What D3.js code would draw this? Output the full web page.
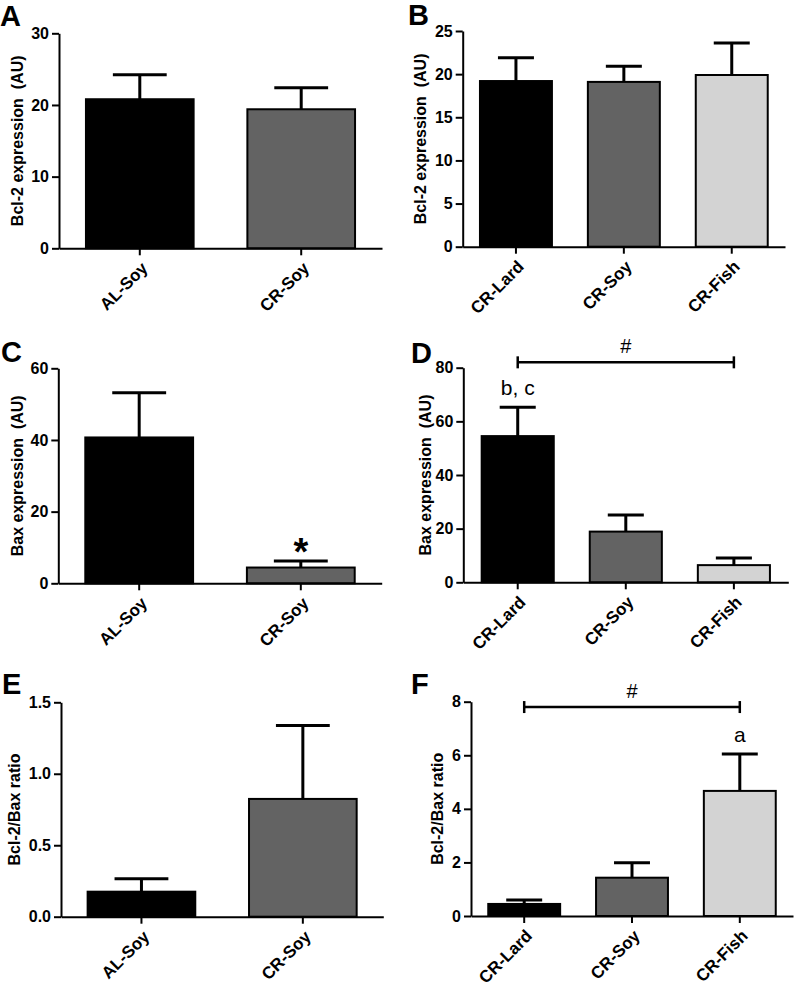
<!DOCTYPE html>
<html>
<head>
<meta charset="utf-8">
<script src="https://cdn.jsdelivr.net/npm/d3@7"></script>
<style>
  html, body { margin: 0; padding: 0; background: #fff; }
  svg { display: block; font-family: "Liberation Sans", Arial, Helvetica, sans-serif; }
</style>
</head>
<body>
<svg id="chart" width="795" height="987"></svg>
<script>
// ---------------- DATA ----------------
const groupsAL = ["AL-Soy", "CR-Soy"];
const groupsCR = ["CR-Lard", "CR-Soy", "CR-Fish"];

const bcl2AL = [20.8, 19.4];
const bcl2ALErr = [3.4, 3.0];
const bcl2CR = [19.2, 19.1, 19.9];
const bcl2CRErr = [2.7, 1.8, 3.7];

const baxAL = [40.7, 4.4];
const baxALErr = [12.5, 1.8];
const baxCR = [54.5, 18.9, 6.4];
const baxCRErr = [10.8, 6.2, 2.7];

const ratioAL = [0.175, 0.824];
const ratioALErr = [0.09, 0.513];
const ratioCR = [0.45, 1.43, 4.67];
const ratioCRErr = [0.15, 0.56, 1.38];

const ticksA = [0, 10, 20, 30];
const ticksB = [0, 5, 10, 15, 20, 25];
const ticksC = [0, 20, 40, 60];
const ticksD = [0, 20, 40, 60, 80];
const ticksE = [0, 0.5, 1.0, 1.5];
const ticksF = [0, 2, 4, 6, 8];

const barColorsAL = ["#000000", "#636363"];
const barColorsCR = ["#000000", "#636363", "#d3d3d3"];

// ---------------- PANELS ----------------
const panels = [
  { letter: "A", cats: groupsAL, vals: bcl2AL, errs: bcl2ALErr, colors: barColorsAL,
    ticks: ticksA, fmt: d3.format("d"), ymax: 30, title: "Bcl-2 expression\u00a0\u00a0(AU)",
    x0: 59, x1: 382, yTop: 33.3, yBot: 248.3, titleX: 17, letterX: 0, letterY: 26, outer: 0.167 },
  { letter: "B", cats: groupsCR, vals: bcl2CR, errs: bcl2CRErr, colors: barColorsCR,
    ticks: ticksB, fmt: d3.format("d"), ymax: 25, title: "Bcl-2 expression\u00a0\u00a0(AU)",
    x0: 462.7, x1: 785, yTop: 31, yBot: 246.7, titleX: 420, letterX: 408, letterY: 25, outer: 0.16 },
  { letter: "C", cats: groupsAL, vals: baxAL, errs: baxALErr, colors: barColorsAL,
    ticks: ticksC, fmt: d3.format("d"), ymax: 60, title: "Bax expression\u00a0\u00a0(AU)",
    x0: 58.3, x1: 381.7, yTop: 368.3, yBot: 583.3, titleX: 17, letterX: 1, letterY: 362, outer: 0.167,
    star: 1 },
  { letter: "D", cats: groupsCR, vals: baxCR, errs: baxCRErr, colors: barColorsCR,
    ticks: ticksD, fmt: d3.format("d"), ymax: 80, title: "Bax expression\u00a0\u00a0(AU)",
    x0: 463.3, x1: 788.3, yTop: 367.7, yBot: 582.3, titleX: 425, letterX: 411, letterY: 363, outer: 0.17,
    bracket: 82, note: { i: 0, text: "b, c" } },
  { letter: "E", cats: groupsAL, vals: ratioAL, errs: ratioALErr, colors: barColorsAL,
    ticks: ticksE, fmt: d3.format(".1f"), ymax: 1.5, title: "Bcl-2/Bax ratio",
    x0: 61, x1: 383.3, yTop: 702.3, yBot: 916.7, titleX: 14, letterX: 2, letterY: 694, outer: 0.165 },
  { letter: "F", cats: groupsCR, vals: ratioCR, errs: ratioCRErr, colors: barColorsCR,
    ticks: ticksF, fmt: d3.format("d"), ymax: 8, title: "Bcl-2/Bax ratio",
    x0: 471, x1: 793, yTop: 701.7, yBot: 916, titleX: 437, letterX: 411, letterY: 694, outer: 0.16,
    bracket: 7.8, note: { i: 2, text: "a" } }
];

const svg = d3.select("#chart");
const FONT = "Liberation Sans, Arial, sans-serif";

panels.forEach(p => {
  const g = svg.append("g");
  const x = d3.scaleBand().domain(p.cats).range([p.x0, p.x1])
    .paddingInner(0.333).paddingOuter(p.outer);
  const y = d3.scaleLinear().domain([0, p.ymax]).range([p.yBot, p.yTop]);
  const bw = x.bandwidth();

  // bars
  g.selectAll("rect.bar").data(p.cats).join("rect")
    .attr("class", "bar")
    .attr("x", d => x(d))
    .attr("width", bw)
    .attr("y", (d, i) => y(p.vals[i]))
    .attr("height", (d, i) => p.yBot - y(p.vals[i]))
    .attr("fill", (d, i) => p.colors[i])
    .attr("stroke", "#000")
    .attr("stroke-width", 2);

  // error bars (upper only)
  p.cats.forEach((c, i) => {
    const cx = x(c) + bw / 2;
    const top = y(p.vals[i] + p.errs[i]);
    g.append("line").attr("x1", cx).attr("x2", cx)
      .attr("y1", y(p.vals[i])).attr("y2", top)
      .attr("stroke", "#000").attr("stroke-width", 3);
    g.append("line").attr("x1", cx - bw / 4).attr("x2", cx + bw / 4)
      .attr("y1", top).attr("y2", top)
      .attr("stroke", "#000").attr("stroke-width", 3);
  });

  // y axis
  const yAxis = d3.axisLeft(y).tickValues(p.ticks).tickFormat(p.fmt)
    .tickSize(7).tickPadding(3).tickSizeOuter(0);
  const ya = g.append("g").attr("transform", `translate(${p.x0},0)`).call(yAxis);
  ya.select(".domain").attr("stroke-width", 2);
  ya.selectAll(".tick line").attr("stroke-width", 2);
  ya.selectAll(".tick text").attr("font-size", 16).attr("font-weight", "bold")
    .attr("fill", "#000").attr("font-family", FONT);

  // x axis
  const xAxis = d3.axisBottom(x).tickSize(7).tickSizeOuter(0).tickPadding(4);
  const xa = g.append("g").attr("transform", `translate(0,${p.yBot})`).call(xAxis);
  xa.select(".domain").attr("stroke-width", 2);
  xa.selectAll(".tick line").attr("stroke-width", 2);
  xa.selectAll(".tick text")
    .attr("font-size", 17).attr("font-weight", "bold").attr("fill", "#000")
    .attr("font-family", FONT)
    .attr("text-anchor", "end")
    .attr("dy", null).attr("y", null)
    .attr("transform", "translate(9,21) rotate(-45)");

  // y title
  const midY = (p.yTop + p.yBot) / 2;
  g.append("text")
    .attr("transform", `translate(${p.titleX + 6},${midY}) rotate(-90)`)
    .attr("text-anchor", "middle")
    .attr("font-size", 16).attr("font-weight", "bold")
    .text(p.title);

  // panel letter
  g.append("text").attr("x", p.letterX).attr("y", p.letterY)
    .attr("font-size", 29).attr("font-weight", "bold").text(p.letter);

  // significance star
  if (p.star !== undefined) {
    const c = p.cats[p.star];
    g.append("text").attr("x", x(c) + bw / 2)
      .attr("y", y(p.vals[p.star] + p.errs[p.star]) + 4)
      .attr("text-anchor", "middle").attr("font-size", 38).attr("font-weight", "bold")
      .text("*");
  }

  // bracket with #
  if (p.bracket !== undefined) {
    const xa1 = x(p.cats[0]) + bw / 2;
    const xa2 = x(p.cats[p.cats.length - 1]) + bw / 2;
    const by = y(p.bracket);
    g.append("line").attr("x1", xa1).attr("x2", xa2).attr("y1", by).attr("y2", by)
      .attr("stroke", "#000").attr("stroke-width", 2.5);
    [xa1, xa2].forEach(xx => g.append("line").attr("x1", xx).attr("x2", xx)
      .attr("y1", by - 6).attr("y2", by + 6).attr("stroke", "#000").attr("stroke-width", 2.5));
    g.append("text").attr("x", (xa1 + xa2) / 2).attr("y", by - 9)
      .attr("text-anchor", "middle").attr("font-size", 20).text("#");
  }

  // letter annotation
  if (p.note) {
    const i = p.note.i;
    const c = p.cats[i];
    g.append("text").attr("x", x(c) + bw / 2)
      .attr("y", y(p.vals[i] + p.errs[i]) - 12)
      .attr("text-anchor", "middle").attr("font-size", 21).text(p.note.text);
  }
});
</script>
</body>
</html>
